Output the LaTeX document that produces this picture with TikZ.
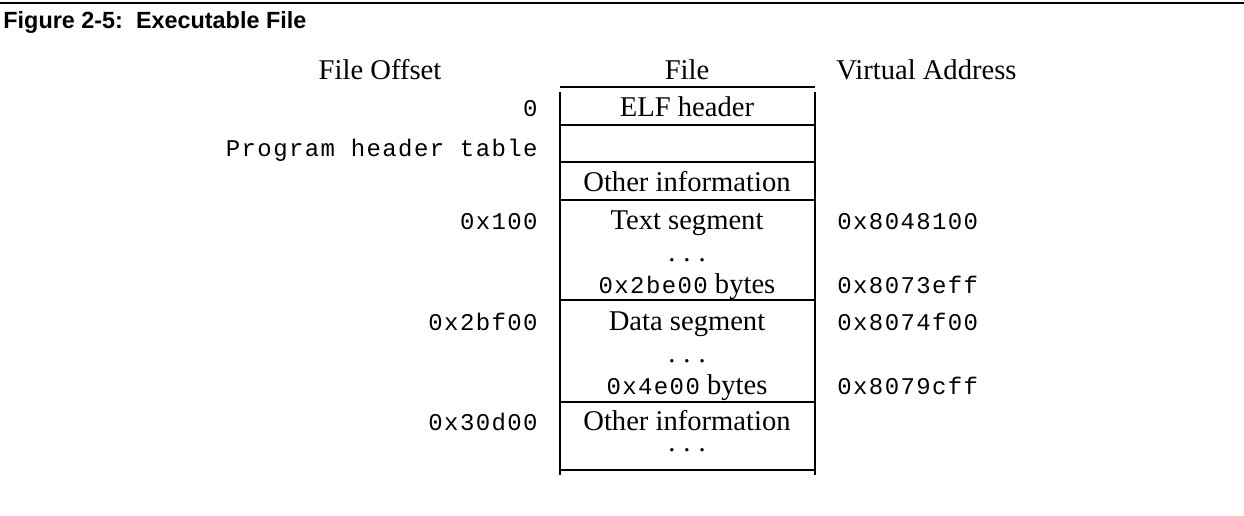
\documentclass[tikz,border=0pt]{standalone}
\usepackage{fontspec}
\setmainfont{Liberation Serif}
\newfontfamily\monof{Liberation Mono}[LetterSpace=5.8]
\newfontfamily\titlef{Liberation Sans}
\newcommand{\vdotsrow}{.\hspace{0.28em}.\hspace{0.28em}.}
\newcommand{\mfont}{\monof\fontsize{12}{14}\selectfont}
\begin{document}
\begin{tikzpicture}[x=0.5pt,y=-0.5pt,
  rule/.style={line width=0.6pt},
  ser/.style={font=\fontsize{14.3}{16}\selectfont, inner sep=0pt, anchor=base},
  mono/.style={font=\mfont, inner sep=0pt},
  lab/.style={mono, anchor=base east},
  va/.style={mono, anchor=base west},
  cell/.style={ser, anchor=base}]
\useasboundingbox (0,0) rectangle (1244,515);
% title rule and title
\coordinate (tl) at (0,3);
\coordinate (tr) at (1244,3);
\draw[line width=0.7pt] (tl) -- (tr);
\node[font=\titlef\bfseries\fontsize{11.7}{13}\selectfont, inner sep=0pt, anchor=base west] (title) at (3,28) {Figure 2-5:\ \ Executable File};
% headers
\node[ser] (hoff) at (380,79) {File Offset};
\node[ser] (hfile) at (687,79) {File};
\node[ser, anchor=base west] (hva) at (836,79) {Virtual Address};
% table
\coordinate (t0l) at (560,87); \coordinate (t0r) at (815,87);
\draw[rule] (t0l) -- (t0r);
\coordinate (vl1) at (560,92); \coordinate (vl2) at (560,475);
\coordinate (vr1) at (815,92); \coordinate (vr2) at (815,475);
\draw[rule] (vl1) -- (vl2);
\draw[rule] (vr1) -- (vr2);
\foreach \y/\n in {125/a,162/b,200/c,300/d,402/e,470/f}{
  \coordinate (h\n l) at (560,\y); \coordinate (h\n r) at (815,\y);
  \draw[rule] (h\n l) -- (h\n r);
}
% cells
\node[cell] (c1) at (687,116) {ELF header};
\node[cell] (c3) at (687,191) {Other information};
\node[cell] (c4) at (687,229) {Text segment};
\node[cell] (c5) at (687,261) {\vdotsrow};
\node[cell] (c6) at (687,293) {{\mfont 0x2be00} bytes};
\node[cell] (c7) at (687,330) {Data segment};
\node[cell] (c8) at (687,362) {\vdotsrow};
\node[cell] (c9) at (687,394) {{\mfont 0x4e00} bytes};
\node[cell] (c10) at (687,430) {Other information};
\node[cell] (c11) at (687,451) {\vdotsrow};
% offsets
\node[lab] (o0) at (538,116) {0};
\node[lab] (o1) at (538,156) {Program header table};
\node[lab] (o2) at (538,229) {0x100};
\node[lab] (o3) at (538,330) {0x2bf00};
\node[lab] (o4) at (538,430) {0x30d00};
% virtual addresses
\node[va] (v1) at (837,229) {0x8048100};
\node[va] (v2) at (837,293) {0x8073eff};
\node[va] (v3) at (837,330) {0x8074f00};
\node[va] (v4) at (837,394) {0x8079cff};
\end{tikzpicture}
\end{document}
